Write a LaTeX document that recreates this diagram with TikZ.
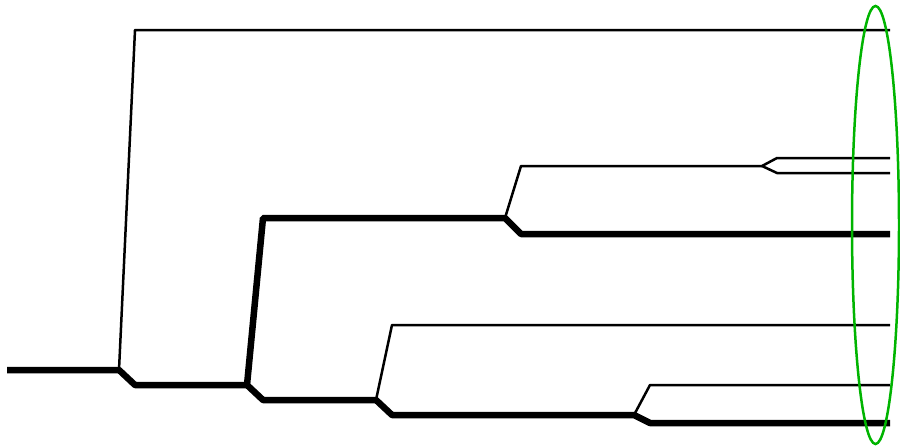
\documentclass[tikz,border=0pt]{standalone}
\usetikzlibrary{calc,shapes.geometric}
\definecolor{clgreen}{RGB}{0,180,0}
\tikzset{
  thinbr/.style={line width=2.5pt, black, line join=bevel},
  thickbr/.style={line width=6.5pt, black, line join=bevel},
  cladering/.style={line width=2.5pt, clgreen}
}
\begin{document}
\begin{tikzpicture}[x=1pt,y=-1pt]
\useasboundingbox (0,0) rectangle (900,447);
% coordinates
\coordinate (r0) at (7,370);
\coordinate (n1) at (119,370);
\coordinate (n1t) at (135,30);
\coordinate (e1) at (890,30);
\coordinate (n1b) at (135,385);
\coordinate (n2) at (247,385);
\coordinate (n2t) at (263,218);
\coordinate (n3) at (505,218);
\coordinate (n3t) at (521,166);
\coordinate (n4) at (762,166);
\coordinate (n4a) at (777,158);
\coordinate (e2) at (890,158);
\coordinate (n4b) at (777,173);
\coordinate (e3) at (890,173);
\coordinate (n3b) at (521,234);
\coordinate (e4) at (890,234);
\coordinate (n2b) at (263,400);
\coordinate (n5) at (376,400);
\coordinate (n5t) at (392,325);
\coordinate (e5) at (890,325);
\coordinate (n5b) at (392,415);
\coordinate (n6) at (634,415);
\coordinate (n6t) at (650,385);
\coordinate (e6) at (890,385);
\coordinate (n6b) at (650,423);
\coordinate (e7) at (890,423);
% thin branches
\draw[thinbr] (n1) -- (n1t) -- (e1);
\draw[thinbr] (n3) -- (n3t) -- (n4) -- (n4a) -- (e2);
\draw[thinbr] (n4) -- (n4b) -- (e3);
\draw[thinbr] (n5) -- (n5t) -- (e5);
\draw[thinbr] (n6) -- (n6t) -- (e6);
% thick branches
\draw[thickbr] (r0) -- (n1) -- (n1b) -- (n2) -- (n2b) -- (n5) -- (n5b) -- (n6) -- (n6b) -- (e7);
\draw[thickbr] (n2) -- (n2t) -- (n3) -- (n3b) -- (e4);
% clade ellipse
\node[cladering, draw, ellipse, minimum width=47pt, minimum height=438pt, inner sep=0pt] (clade) at (875.5,225) {};
\end{tikzpicture}
\end{document}
